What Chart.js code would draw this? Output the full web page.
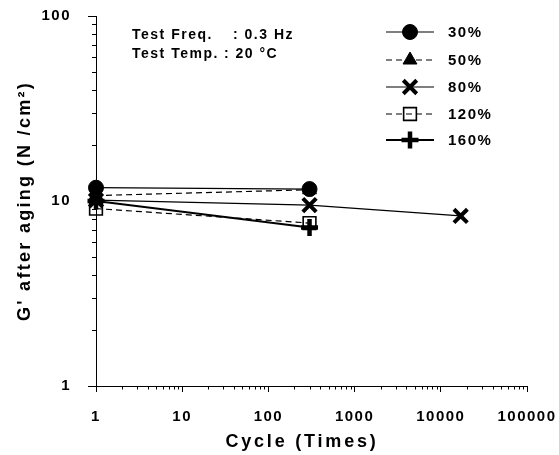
<!DOCTYPE html>
<html><head><meta charset="utf-8">
<script src="https://cdn.jsdelivr.net/npm/chart.js@4.4.1/dist/chart.umd.min.js"></script>
<style>html,body{margin:0;padding:0;background:#fff}#wrap{width:559px;height:455px}</style>
</head><body><div id="wrap"><canvas id="c" width="559" height="455"></canvas></div>
<script>
// ---- data ----
const seriesNames = ['30%', '50%', '80%', '120%', '160%'];
const cycles = [1, 300];
const cycles80 = [1, 300, 17000];
const g30 = [11.8, 11.6];
const g50 = [10.7, 11.5];
const g80 = [10.1, 9.5, 8.3];
const g120 = [9.1, 7.6];
const g160 = [10.0, 7.2];
const xTickLabels = ['1', '10', '100', '1000', '10000', '100000'];
const yTickLabels = ['1', '10', '100'];
const noteLines = [['Test Freq.', ': 0.3 Hz'], ['Test Temp.', ': 20 °C']];

const FONT = '"Liberation Sans", Arial, Helvetica, sans-serif';
const isMajor = v => Math.abs(Math.log10(v) - Math.round(Math.log10(v))) < 1e-9;
const pts = (xs, ys) => xs.map((x, i) => ({x: x, y: ys[i]}));

const styles = [
  {pointStyle: 'circle', radius: 7.5, pbw: 1, fill: '#000', dash: [], lw: 1.2},
  {pointStyle: 'triangle', radius: 8, pbw: 1, fill: '#000', dash: [6, 4], lw: 1.2},
  {pointStyle: 'crossRot', radius: 9.5, pbw: 4, fill: '#000', dash: [], lw: 1.2},
  {pointStyle: 'rect', radius: 9, pbw: 1.6, fill: 'rgba(0,0,0,0)', dash: [6, 4], lw: 1.2},
  {pointStyle: 'cross', radius: 8.5, pbw: 4.5, fill: '#000', dash: [], lw: 2}
];
const seriesData = [pts(cycles, g30), pts(cycles, g50), pts(cycles80, g80), pts(cycles, g120), pts(cycles, g160)];

const datasets = seriesNames.map((n, i) => ({
  label: n,
  data: seriesData[i],
  borderColor: '#000',
  backgroundColor: styles[i].fill,
  borderWidth: styles[i].lw,
  borderDash: styles[i].dash,
  pointStyle: styles[i].pointStyle,
  pointRadius: styles[i].radius,
  pointHoverRadius: styles[i].radius,
  pointBorderWidth: styles[i].pbw,
  pointBackgroundColor: styles[i].fill,
  pointBorderColor: '#000',
  tension: 0,
  clip: false
}));

function minorValues(min, max) {
  const out = [];
  for (let e = Math.floor(Math.log10(min)); e < Math.ceil(Math.log10(max)); e++) {
    for (let k = 2; k <= 9; k++) {
      const v = k * Math.pow(10, e);
      if (v > min && v < max) out.push(v);
    }
  }
  return out;
}

const decor = {
  id: 'decor',
  beforeDraw(chart) { chart.ctx.letterSpacing = '1.5px'; },
  afterDraw(chart) {
    const ctx = chart.ctx;
    const xs = chart.scales.x, ys = chart.scales.y;
    ctx.save();
    ctx.strokeStyle = '#000';
    ctx.fillStyle = '#000';
    ctx.lineWidth = 1;
    ctx.setLineDash([]);
    // minor ticks
    minorValues(ys.min, ys.max).forEach(v => {
      const y = Math.round(ys.getPixelForValue(v)) + 0.5;
      ctx.beginPath(); ctx.moveTo(ys.right - 4, y); ctx.lineTo(ys.right, y); ctx.stroke();
    });
    minorValues(xs.min, xs.max).forEach(v => {
      const x = Math.round(xs.getPixelForValue(v)) + 0.5;
      ctx.beginPath(); ctx.moveTo(x, xs.top); ctx.lineTo(x, xs.top + 3.5); ctx.stroke();
    });
    // legend
    const rowsY = [32, 60, 87, 114, 140];
    ctx.font = 'bold 15px ' + FONT;
    ctx.textBaseline = 'middle';
    ctx.textAlign = 'left';
    chart.data.datasets.forEach((ds, i) => {
      const y = rowsY[i];
      ctx.save();
      ctx.lineWidth = ds.borderWidth;
      ctx.setLineDash(ds.borderDash);
      ctx.beginPath(); ctx.moveTo(386, y); ctx.lineTo(434, y); ctx.stroke();
      ctx.restore();
      ctx.save();
      ctx.setLineDash([]);
      ctx.fillStyle = ds.pointBackgroundColor;
      ctx.strokeStyle = '#000';
      ctx.lineWidth = ds.pointBorderWidth;
      Chart.helpers.drawPoint(ctx, {pointStyle: ds.pointStyle, radius: ds.pointRadius, borderWidth: ds.pointBorderWidth, rotation: 0}, 410, y);
      ctx.restore();
      ctx.fillStyle = '#000';
      ctx.fillText(ds.label, 448, y + 1);
    });
    // note
    ctx.font = 'bold 14px ' + FONT;
    ctx.fillText(noteLines[0][0], 132, 35);
    ctx.fillText(noteLines[0][1], 233, 35);
    ctx.fillText(noteLines[1][0], 132, 54);
    ctx.fillText(noteLines[1][1], 224, 54);
    // axis titles
    ctx.letterSpacing = '2.8px';
    ctx.font = 'bold 18px ' + FONT;
    ctx.textAlign = 'center';
    ctx.fillText('Cycle (Times)', 302, 442);
    ctx.letterSpacing = '2.3px';
    ctx.save();
    ctx.translate(25, 201);
    ctx.rotate(-Math.PI / 2);
    ctx.fillText("G' after aging (N /cm²)", 0, 0);
    ctx.restore();
    ctx.restore();
  }
};

new Chart(document.getElementById('c'), {
  type: 'line',
  data: {datasets: datasets},
  plugins: [decor],
  options: {
    responsive: false,
    animation: false,
    events: [],
    layout: {padding: {top: 16, right: 32, left: 0, bottom: 0}},
    plugins: {legend: {display: false}, tooltip: {enabled: false}},
    scales: {
      x: {
        type: 'logarithmic',
        min: 1, max: 100000,
        afterFit: s => { s.height = 69; s.paddingLeft = 0; s.paddingRight = 0; },
        border: {display: true, color: '#000', width: 1},
        grid: {display: true, drawOnChartArea: false, drawTicks: true, tickLength: 6,
          tickColor: c => (c.tick && isMajor(c.tick.value)) ? '#000' : 'rgba(0,0,0,0)'},
        ticks: {
          autoSkip: false, maxRotation: 0, padding: 16, color: '#000',
          font: {family: FONT, size: 15, weight: 'bold'},
          callback: v => { if (!isMajor(v)) return ''; const s = String(Math.round(v)); return xTickLabels.includes(s) ? s : ''; }
        }
      },
      y: {
        type: 'logarithmic',
        min: 1, max: 100,
        afterFit: s => { s.width = 96; s.paddingTop = 0; s.paddingBottom = 0; },
        border: {display: true, color: '#000', width: 1},
        grid: {display: true, drawOnChartArea: false, drawTicks: true, tickLength: 8,
          tickColor: c => (c.tick && isMajor(c.tick.value)) ? '#000' : 'rgba(0,0,0,0)'},
        ticks: {
          autoSkip: false, padding: 17, color: '#000',
          font: {family: FONT, size: 15, weight: 'bold'},
          callback: v => { if (!isMajor(v)) return ''; const s = String(Math.round(v)); return yTickLabels.includes(s) ? s : ''; }
        }
      }
    }
  }
});
</script></body></html>
